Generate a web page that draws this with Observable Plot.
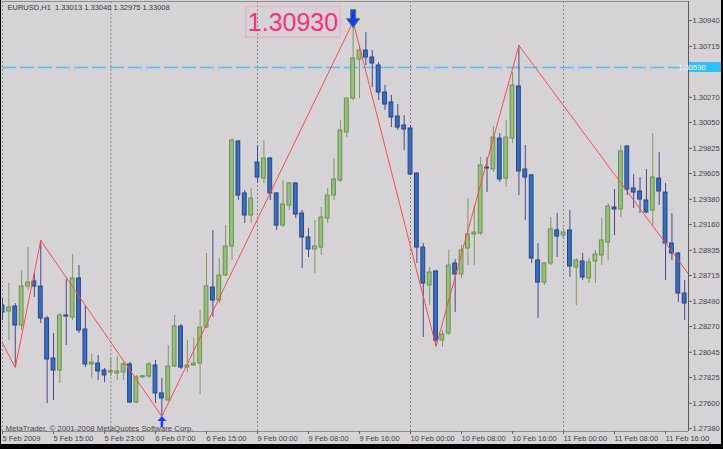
<!DOCTYPE html>
<html><head><meta charset="utf-8">
<script src="https://cdn.jsdelivr.net/npm/d3@7"></script>
<script src="https://cdn.jsdelivr.net/npm/@observablehq/plot@0.6"></script>
<style>
html,body{margin:0;padding:0;background:#d5d3d6;}
#wrap{position:relative;width:723px;height:449px;overflow:hidden;}
#wrap svg{display:block;}
#border{position:absolute;left:0;top:0;width:723px;height:449px;box-sizing:border-box;border-style:solid;border-color:#000;border-width:0 2px 5px 1px;pointer-events:none;}
</style></head><body><div id="wrap"><div id="border"></div></div>
<script>
// Hourly EURUSD bars, 5 Feb 2009 07:00 onward (index = bar number)
const open = [1.28453,1.28401,1.28445,1.28279,1.28619,1.28663,1.28619,1.28340,1.27991,1.27886,
1.28366,1.28349,1.28689,1.28244,1.27939,1.27947,1.27886,1.27869,1.27860,1.27869,
1.27939,1.27607,1.27826,1.27834,1.27930,1.27686,1.27625,1.27921,1.28270,1.27912,
1.27930,1.27947,1.28261,1.28610,1.28497,1.28715,1.28968,1.29884,1.29431,1.29239,
1.29701,1.29561,1.29736,1.29431,1.29151,1.29326,1.29518,1.29256,1.29047,1.28942,
1.28959,1.29212,1.29413,1.29544,1.29963,1.30259,1.30600,1.30678,1.30617,1.30547,
1.30312,1.30225,1.30102,1.30024,1.29998,1.29605,1.28959,1.28628,1.28750,1.28148,
1.28209,1.28820,1.28724,1.28951,1.29073,1.29082,1.29657,1.29640,1.29910,1.29561,
1.29910,1.30364,1.29640,1.29588,1.28846,1.28654,1.28820,1.29108,1.29064,1.29108,
1.28785,1.28837,1.28689,1.28837,1.28890,1.29003,1.29308,1.29291,1.29841,1.29474,
1.29448,1.29370,1.29282,1.29561,1.29439,1.28994,1.28907,1.28558];
const high = [1.28514,1.28645,1.28471,1.28759,1.28959,1.28733,1.29021,1.28357,1.28209,1.28384,
1.28680,1.28898,1.28802,1.28453,1.28026,1.28017,1.27904,1.27991,1.28008,1.27956,
1.27956,1.27843,1.27843,1.27956,1.27974,1.27816,1.28104,1.28366,1.28288,1.28148,
1.28165,1.28410,1.28907,1.29108,1.28863,1.29151,1.29910,1.29893,1.29457,1.29474,
1.29849,1.29893,1.29745,1.29439,1.29544,1.29527,1.29527,1.29282,1.29125,1.29195,
1.29308,1.29474,1.29736,1.30068,1.30259,1.30930,1.30722,1.30835,1.30678,1.30574,
1.30373,1.30286,1.30207,1.30111,1.30024,1.29614,1.28994,1.28785,1.28759,1.28235,
1.28933,1.28855,1.28977,1.29387,1.29326,1.29745,1.29745,1.30015,1.29954,1.30068,
1.30486,1.30722,1.29849,1.29596,1.28994,1.28829,1.29221,1.29256,1.29125,1.29282,
1.28863,1.28907,1.28863,1.28933,1.29212,1.29343,1.29465,1.29849,1.29849,1.29596,
1.29570,1.29640,1.29954,1.29788,1.29518,1.29256,1.28916,1.28672];
const low = [1.28322,1.28148,1.27912,1.28235,1.28584,1.28523,1.28296,1.27598,1.27625,1.27773,
1.28104,1.28322,1.28209,1.27912,1.27816,1.27799,1.27782,1.27834,1.27799,1.27799,
1.27598,1.27598,1.27816,1.27816,1.27598,1.27485,1.27616,1.27912,1.27895,1.27869,
1.27921,1.27677,1.28253,1.28349,1.28471,1.28706,1.28846,1.29370,1.29169,1.29169,
1.29518,1.29518,1.29370,1.29108,1.29134,1.29282,1.29212,1.28776,1.28872,1.28733,
1.28890,1.29169,1.29370,1.29527,1.29920,1.30242,1.30259,1.30547,1.30355,1.30242,
1.30155,1.30006,1.29980,1.29806,1.29588,1.28820,1.28174,1.28453,1.28096,1.28087,
1.28192,1.28392,1.28689,1.28802,1.28802,1.29064,1.29439,1.29614,1.29527,1.29483,
1.29867,1.29413,1.29195,1.28820,1.28340,1.28628,1.28802,1.28872,1.29047,1.28698,
1.28453,1.28672,1.28645,1.28645,1.28802,1.28846,1.29064,1.29221,1.29413,1.29300,
1.29256,1.29256,1.29151,1.29326,1.28672,1.28846,1.28480,1.28322];
const close = [1.28392,1.28436,1.28279,1.28619,1.28654,1.28619,1.28340,1.27982,1.27886,1.28366,
1.28357,1.28689,1.28235,1.27939,1.27956,1.27878,1.27843,1.27880,1.27878,1.27939,
1.27607,1.27826,1.27836,1.27939,1.27686,1.27642,1.27921,1.28270,1.27912,1.27930,
1.27947,1.28261,1.28619,1.28497,1.28715,1.28968,1.29893,1.29413,1.29239,1.29387,
1.29570,1.29736,1.29431,1.29151,1.29335,1.29518,1.29247,1.29047,1.28942,1.28968,
1.29221,1.29413,1.29553,1.29980,1.30259,1.30608,1.30678,1.30617,1.30565,1.30312,
1.30207,1.30094,1.30006,1.29989,1.29596,1.28959,1.28645,1.28741,1.28148,1.28200,
1.28802,1.28724,1.28933,1.29073,1.29090,1.29675,1.29649,1.29919,1.29553,1.29919,
1.30373,1.29623,1.29570,1.28863,1.28654,1.28820,1.29117,1.29055,1.29090,1.28794,
1.28846,1.28698,1.28829,1.28898,1.29021,1.29317,1.29291,1.29797,1.29465,1.29439,
1.29378,1.29265,1.29570,1.29448,1.28994,1.28907,1.28558,1.28471];

// ZigZag pivots (bar index, price)
const zzIdx = [0, 2, 6, 25, 55, 68, 81, 108];
const zzPrice = [1.28124, 1.27912, 1.29021, 1.27485, 1.30930, 1.28096, 1.30722, 1.28698];

// Arrow markers
const peakIdx = 55;   // down arrow + price label
const troughIdx = 25; // up arrow

const bidPrice = 1.30530;
const titleText = "EURUSD,H1  1.33013 1.33046 1.32975 1.33008";
const copyText = "MetaTrader, © 2001-2008 MetaQuotes Software Corp.";

const xTickIdx = [0,8,16,24,32,40,48,56,64,72,80,88,96,104];
const xTickLabels = ["5 Feb 2009","5 Feb 15:00","5 Feb 23:00","6 Feb 07:00","6 Feb 15:00","9 Feb 00:00","9 Feb 08:00","9 Feb 16:00","10 Feb 00:00","10 Feb 08:00","10 Feb 16:00","11 Feb 00:00","11 Feb 08:00","11 Feb 16:00"];
const daySep = [17, 40, 64, 88];
const yTicks = [1.30940,1.30715,1.30270,1.30050,1.29825,1.29605,1.29380,1.29160,1.28935,1.28715,1.28490,1.28270,1.28045,1.27825,1.27600,1.27380];

const xDomain = [0, 107.6];
const yDomain = [1.27354, 1.31106];

const bars = open.map((o, i) => ({i, o, h: high[i], l: low[i], c: close[i], up: close[i] >= o}));
const zz = zzIdx.map((i, k) => ({i, p: zzPrice[k]}));

const downArrow = {draw(ctx) {
  ctx.moveTo(-2.5,-9); ctx.lineTo(2.5,-9); ctx.lineTo(2.5,0); ctx.lineTo(6.5,0);
  ctx.lineTo(0,9); ctx.lineTo(-6.5,0); ctx.lineTo(-2.5,0); ctx.closePath();
}};
const upArrow = {draw(ctx) {
  ctx.moveTo(0,-5.5); ctx.lineTo(4.5,-0.5); ctx.lineTo(1.2,-0.5); ctx.lineTo(1.2,5.5);
  ctx.lineTo(-1.2,5.5); ctx.lineTo(-1.2,-0.5); ctx.lineTo(-4.5,-0.5); ctx.closePath();
}};

const bullFill = "#98bd82", bullStroke = "#6a9446", bullWick = "#7f9866";
const bearFill = "#3a6cb8", bearStroke = "#22478f", bearWick = "#4a4790";

const chart = Plot.plot({
  width: 723, height: 449,
  marginLeft: 2, marginRight: 35, marginTop: 1, marginBottom: 18,
  style: {background: "#d5d3d6", fontFamily: "'Liberation Sans', Arial, sans-serif", fontSize: "7.5px", color: "#444"},
  x: {domain: xDomain, axis: null},
  y: {domain: yDomain, axis: null},
  marks: [
    Plot.ruleX(daySep, {stroke: "#8a8a8a", strokeDasharray: "2,2"}),
    Plot.ruleX([xDomain[0]], {stroke: "#8a8a8a", strokeDasharray: "2,2"}),
    Plot.ruleY([yDomain[0]], {stroke: "#8c8c8c"}),
    Plot.ruleY([yDomain[1]], {stroke: "#8c8c8c"}),
    Plot.ruleY([bidPrice], {stroke: "#4fbfff", strokeWidth: 1.4, strokeDasharray: "14,4"}),
    Plot.ruleX(bars, {x: "i", y1: "l", y2: "h", stroke: d => d.up ? bullWick : bearWick, clip: true}),
    Plot.rect(bars, {x1: d => d.i - 0.3, x2: d => d.i + 0.3, y1: "o", y2: "c",
      fill: d => d.up ? bullFill : bearFill, stroke: d => d.up ? bullStroke : bearStroke, clip: true}),
    Plot.line(zz, {x: "i", y: "p", stroke: "#ff4a4a", strokeWidth: 1, clip: true}),
    Plot.dot([bars[peakIdx]], {x: "i", y: "h", symbol: downArrow, r: 5, fill: "#1a36ff", stroke: "#3f8a3a", strokeWidth: 1, dy: -3}),
    Plot.dot([bars[troughIdx]], {x: "i", y: "l", symbol: upArrow, r: 5, fill: "#1a3cff", stroke: "none", dy: 5}),
    Plot.text([bars[peakIdx]], {x: "i", y: "h", text: d => d.h.toFixed(5), textAnchor: "end", lineAnchor: "middle",
      dx: -15, dy: 1.5, fill: "#ff2d7d", fontSize: 25}),
    Plot.text([titleText], {frameAnchor: "top-left", dx: 5, dy: 6, textAnchor: "start", lineAnchor: "middle", fill: "#3a3a3a", fontSize: 7.5}),
    Plot.text([copyText], {frameAnchor: "bottom-left", dx: 3, dy: -1, textAnchor: "start", lineAnchor: "bottom", fill: "#4a4a4a", fontSize: 7.8}),
    Plot.ruleX([xDomain[1]], {stroke: "#5a5a5a"}),
    Plot.axisX(xTickIdx, {anchor: "bottom", tickSize: 3, tickPadding: 1, textAnchor: "start",
      tickFormat: d => xTickLabels[xTickIdx.indexOf(d)], fontSize: 7.5, stroke: "#666", fill: "#444"}),
    Plot.axisY(yTicks, {anchor: "right", tickSize: 3, tickPadding: 1, tickFormat: d => d.toFixed(5),
      fontSize: 7.5, stroke: "#666", fill: "#444"})
  ]
});

const wrap = document.getElementById("wrap");
wrap.insertBefore(chart, wrap.firstChild);

// Box around the peak price label (same transform as the text)
const ns = "http://www.w3.org/2000/svg";
const peakText = high[peakIdx].toFixed(5);
const lbl = Array.from(chart.querySelectorAll("text")).find(t => t.textContent === peakText);
if (lbl) {
  const bb = lbl.getBBox();
  const r = document.createElementNS(ns, "rect");
  r.setAttribute("x", bb.x - 2); r.setAttribute("y", bb.y - 1.5);
  r.setAttribute("width", bb.width + 4); r.setAttribute("height", bb.height + 2.5);
  r.setAttribute("fill", "none"); r.setAttribute("stroke", "#f2a3c6");
  const tf = lbl.getAttribute("transform");
  if (tf) r.setAttribute("transform", tf);
  lbl.parentNode.insertBefore(r, lbl);
}

// Highlighted bid price label on the right axis
const ys = chart.scale("y"), xs = chart.scale("x");
const by = ys.apply(bidPrice), bx = xs.apply(xDomain[1]);
const hb = document.createElementNS(ns, "rect");
hb.setAttribute("x", bx + 1); hb.setAttribute("y", by - 5);
hb.setAttribute("width", 40); hb.setAttribute("height", 10);
hb.setAttribute("fill", "#2ec0ff");
chart.appendChild(hb);
const ht = document.createElementNS(ns, "text");
ht.setAttribute("x", bx + 4); ht.setAttribute("y", by + 2.7);
ht.setAttribute("fill", "#ffffff"); ht.setAttribute("font-size", "7.5");
ht.textContent = bidPrice.toFixed(5);
chart.appendChild(ht);
</script>
</body></html>
